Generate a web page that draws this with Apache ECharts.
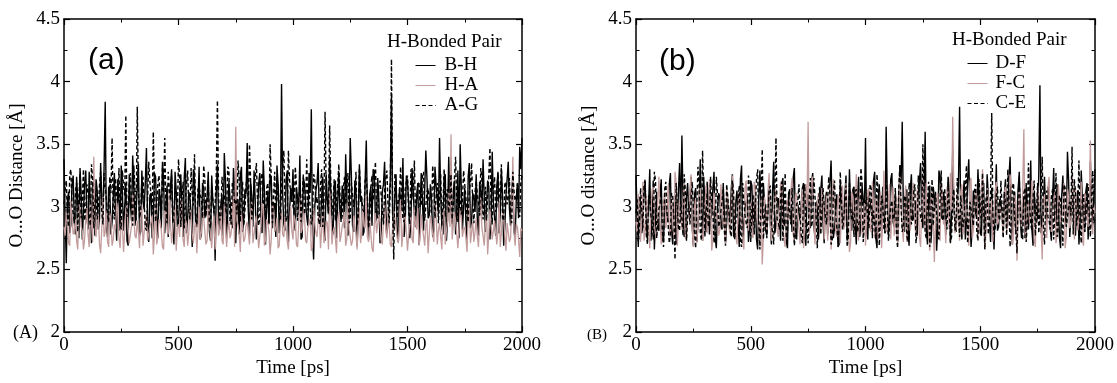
<!DOCTYPE html>
<html><head><meta charset="utf-8">
<script src="https://cdn.jsdelivr.net/npm/echarts@6/dist/echarts.min.js"></script>
<style>html,body{margin:0;padding:0;background:#fff}#c{width:1117px;height:383px}</style>
</head><body><div id="c"></div>
<script>
// sampling step of the time traces (ps); *_even at t = 0,10,...; *_odd at t = 5,15,...
const timeStep = 10;
const xTicks = [0, 500, 1000, 1500, 2000];
const yTicks = [2, 2.5, 3, 3.5, 4, 4.5];
const legendTitle = 'H-Bonded Pair';
const namesA = ['B-H', 'H-A', 'A-G'];
const namesB = ['D-F', 'F-C', 'C-E'];

// Panel (a)
const BH_even = [
3.38,2.55,3.12,2.86,3.25,2.78,3.05,3.31,2.74,3.18,2.92,3.28,2.71,3.09,3.22,2.82,3.35,2.95,3.84,2.76,
3.14,2.88,3.27,2.73,3.06,3.33,2.81,3.19,2.69,3.02,3.41,2.85,3.16,2.77,3.29,2.98,3.47,2.72,3.11,2.89,
3.24,2.75,3.08,3.36,2.79,3.17,2.94,3.30,2.70,3.13,2.87,3.26,2.76,3.39,2.91,3.07,2.68,3.21,2.84,3.32,
2.78,3.15,2.90,3.28,2.73,3.04,2.57,3.34,2.82,3.10,3.43,2.75,3.20,2.88,3.31,2.71,3.06,3.25,2.80,3.14,
3.51,2.77,3.09,3.29,2.74,3.18,2.93,3.37,2.70,3.12,3.26,2.83,3.03,3.33,2.79,3.98,2.86,3.22,2.72,3.15,
3.30,2.81,3.07,3.41,2.76,3.19,2.92,3.27,3.78,2.58,3.13,3.35,2.84,3.24,2.73,3.05,3.38,2.87,3.17,2.75,
3.28,2.90,3.11,3.42,2.77,3.55,2.85,3.21,2.69,3.34,3.08,2.80,3.53,2.74,3.16,3.30,2.88,3.23,2.71,3.12,
3.36,2.79,3.04,3.88,2.83,3.26,2.72,3.14,3.39,2.86,3.20,2.75,3.31,2.94,3.09,2.70,3.27,2.81,3.45,2.91,
3.18,2.76,3.32,3.06,3.55,2.84,3.23,2.73,3.40,2.97,3.12,2.78,3.29,3.50,2.82,3.15,2.71,3.35,2.89,3.07,
3.26,2.77,3.13,3.38,2.80,3.21,2.74,3.44,2.92,3.17,2.79,3.30,2.69,3.09,3.36,2.85,3.24,2.76,3.19,3.48,
3.55];
const BH_odd = [
2.92,3.05,2.79,3.18,2.88,3.24,2.75,3.10,2.97,3.29,2.82,3.02,3.20,2.77,3.13,2.90,3.06,3.31,2.85,3.16,
2.78,3.08,2.94,3.22,2.81,3.11,3.00,2.73,3.26,2.89,3.15,2.96,3.34,2.80,3.04,3.19,2.87,3.09,2.75,3.27,
2.93,3.14,2.83,3.21,3.01,2.76,3.17,2.90,3.28,2.84,3.07,2.98,3.23,2.79,3.12,2.95,3.30,2.86,3.03,2.74,
3.19,2.91,3.08,2.80,3.25,2.97,3.13,2.88,3.02,2.77,3.21,2.94,3.06,2.83,3.16,3.00,2.78,3.32,2.89,3.10,
2.96,3.20,2.84,3.05,2.93,3.27,2.79,3.14,2.99,2.86,3.22,3.01,2.76,3.18,2.92,3.09,2.81,3.29,2.95,3.04,
2.88,3.15,2.97,2.74,3.23,3.03,2.85,3.11,2.79,3.00,3.19,2.90,3.07,2.82,3.26,2.94,3.12,2.78,3.21,3.02,
2.95,3.17,2.83,3.09,2.98,3.24,2.80,3.13,2.92,3.04,2.77,3.20,2.96,3.10,2.85,3.28,2.91,3.06,2.79,3.18,
3.00,2.87,3.22,2.94,3.08,2.81,3.15,2.97,2.76,3.25,3.03,2.89,3.12,2.84,3.19,2.99,3.07,2.80,3.23,2.93,
3.05,2.82,3.17,2.95,3.10,2.78,3.26,2.90,3.02,2.86,3.21,2.97,2.75,3.14,3.00,2.88,3.24,2.83,3.11,2.96,
2.89,3.20,2.98,3.07,2.81,3.16,2.92,3.03,2.77,3.27,2.94,3.09,2.84,3.22,2.99,3.13,2.80,3.05,2.91,3.30];
const HA_even = [
2.84,2.96,2.71,3.05,2.78,2.90,2.66,3.02,2.81,2.74,2.99,2.68,2.87,3.40,2.76,2.93,2.63,3.08,2.80,2.72,
2.95,2.69,2.86,3.04,2.75,2.91,2.64,2.98,2.83,2.70,3.10,2.77,2.89,2.67,3.01,2.79,2.94,2.73,2.85,2.62,
3.03,2.76,2.88,2.68,2.97,2.82,3.12,2.71,2.92,2.65,2.86,3.06,2.74,2.90,2.69,2.99,2.78,2.84,2.63,3.00,
2.80,2.92,2.70,3.07,2.77,2.86,2.66,2.95,2.81,2.73,3.02,2.68,2.89,2.79,3.11,3.64,2.85,2.64,2.96,2.75,
2.88,2.70,3.04,2.78,2.93,2.67,2.84,2.99,2.73,2.87,2.62,3.05,2.80,2.91,2.69,2.97,2.76,2.83,2.66,3.01,
2.74,2.89,2.68,3.08,2.82,2.94,2.71,2.86,2.65,3.00,2.79,2.90,2.67,2.98,2.75,2.87,3.13,2.70,2.84,2.63,
2.96,2.77,2.88,2.69,3.03,2.81,2.73,2.92,2.66,2.99,2.78,2.85,3.09,2.72,2.90,2.64,2.95,2.80,2.87,2.70,
3.02,2.75,2.86,2.68,2.97,2.83,2.71,3.06,2.79,2.91,2.65,2.88,2.74,3.00,2.82,2.69,2.94,2.77,2.85,2.63,
2.93,2.78,3.05,2.70,2.87,2.66,2.96,2.81,3.11,3.58,2.73,2.89,2.67,2.99,2.76,2.84,2.64,3.02,2.80,2.72,
2.91,2.68,3.07,2.77,2.86,2.62,2.98,2.74,2.89,2.70,3.04,2.79,2.92,2.65,2.87,2.75,3.40,2.69,2.84,2.60,
2.81];
const HA_odd = [
2.77,2.88,2.69,2.94,2.81,2.73,2.99,2.84,2.66,2.91,2.78,3.02,2.72,2.86,2.95,2.70,2.83,2.76,2.97,2.68,
2.89,2.74,2.82,2.96,2.67,2.87,2.79,3.01,2.71,2.85,2.92,2.75,2.80,2.98,2.69,2.88,2.73,2.84,2.93,2.77,
2.70,2.90,2.81,2.66,2.95,2.78,2.86,2.72,3.00,2.83,2.76,2.91,2.68,2.87,2.79,2.94,2.71,2.89,2.82,2.74,
2.97,2.80,2.73,2.88,2.67,2.93,2.84,2.77,2.99,2.70,2.86,2.81,2.75,2.92,2.68,2.89,2.78,2.95,2.72,2.85,
2.79,2.94,2.71,2.87,2.82,2.76,3.03,2.69,2.90,2.80,2.74,2.96,2.83,2.67,2.88,2.78,2.92,2.72,2.85,2.81,
2.93,2.70,2.86,2.79,2.98,2.73,2.84,2.91,2.68,2.87,2.76,2.95,2.81,2.71,2.89,2.66,2.97,2.80,2.75,2.90,
2.72,2.85,2.96,2.74,2.82,2.69,2.93,2.78,2.87,2.71,3.01,2.83,2.76,2.90,2.67,2.86,2.79,2.94,2.73,2.88,
2.81,2.97,2.70,2.84,2.91,2.75,2.88,2.68,2.95,2.80,2.77,2.92,2.71,2.86,2.99,2.74,2.83,2.69,2.90,2.78,
2.87,2.72,2.93,2.81,2.76,2.98,2.70,2.89,2.84,2.74,2.96,2.79,2.67,2.91,2.82,2.75,2.94,2.71,2.88,2.80,
2.76,2.92,2.83,2.69,2.97,2.78,2.85,2.73,2.90,2.81,2.68,2.95,2.77,2.87,2.72,2.99,2.80,2.86,2.74,2.83];
const AG_even = [
3.02,3.21,2.84,3.30,2.95,3.12,2.80,3.26,3.05,2.89,3.18,2.92,3.34,2.83,3.10,3.00,3.28,2.86,3.15,2.94,
3.24,3.55,2.90,3.08,3.31,2.82,3.17,3.73,2.96,3.27,2.85,3.13,3.80,2.91,3.22,3.04,2.81,3.36,3.09,3.60,
2.88,3.19,3.01,3.32,3.55,2.87,3.14,3.25,2.93,3.06,3.38,2.84,3.20,3.03,3.29,2.90,3.11,3.42,2.86,3.16,
3.07,3.33,2.92,3.21,2.83,3.18,3.02,3.85,2.89,3.24,3.10,2.94,3.30,2.86,3.15,3.05,3.37,2.88,3.20,2.97,
3.27,3.50,2.90,3.12,3.35,2.85,3.23,3.04,2.92,3.19,3.50,2.87,3.28,3.06,2.95,3.16,3.45,2.88,3.45,3.10,
3.01,3.32,2.89,3.20,3.07,2.94,3.38,3.13,2.86,3.26,3.03,2.91,3.17,2.84,3.76,3.11,3.65,2.93,3.22,3.05,
3.34,2.88,3.15,3.02,3.27,2.90,3.19,3.08,2.85,3.31,3.12,2.96,3.24,2.83,3.16,3.05,3.36,2.91,3.21,3.00,
3.13,3.29,2.87,4.18,2.58,3.18,3.06,3.32,2.90,3.14,3.25,2.86,3.09,3.37,2.93,3.20,3.02,3.28,2.89,3.15,
3.04,3.33,2.91,3.19,3.08,2.85,3.30,3.12,2.95,3.26,3.01,3.40,2.88,3.17,3.06,3.29,2.92,3.14,3.35,2.87,
3.21,3.03,3.31,2.90,3.16,3.09,3.47,2.86,3.24,3.00,3.13,3.34,2.89,3.20,3.07,2.94,3.28,3.05,3.18,2.92,
3.25];
const AG_odd = [
3.14,2.93,3.26,3.01,2.87,3.19,3.08,2.91,3.30,2.98,3.12,2.85,3.22,3.04,2.90,3.17,2.96,3.27,3.06,2.88,
3.11,2.95,3.23,3.03,2.86,3.29,3.09,2.92,3.18,3.00,3.33,2.89,3.13,2.97,3.24,2.84,3.07,3.20,2.94,3.15,
3.02,3.25,2.90,3.11,2.98,3.28,3.05,2.87,3.16,2.93,3.21,3.06,2.83,3.18,2.97,3.31,3.01,2.88,3.14,3.09,
2.91,3.22,3.04,2.86,3.17,2.95,3.26,3.08,2.92,3.12,2.99,3.32,2.88,3.19,3.03,2.94,3.23,3.10,2.85,3.16,
3.00,3.20,2.89,3.13,3.06,2.92,3.27,3.01,3.15,2.87,3.24,3.07,2.96,3.18,2.90,3.29,3.04,2.93,3.21,3.11,
2.94,3.17,3.05,2.88,3.26,3.02,2.97,3.14,2.91,3.23,3.08,2.86,3.30,3.00,3.12,2.95,3.20,3.06,2.89,3.16,
3.09,2.93,3.24,3.03,2.87,3.19,3.00,3.28,2.92,3.13,2.98,3.21,3.07,2.90,3.25,3.04,2.95,3.17,3.10,2.86,
3.22,3.01,3.15,2.96,3.27,2.91,3.11,3.05,2.88,3.20,2.97,3.30,3.06,2.93,3.16,3.00,3.24,2.89,3.12,3.03,
2.95,3.18,3.08,2.87,3.26,3.02,2.92,3.14,3.05,2.90,3.23,3.00,3.16,2.94,3.29,3.07,2.88,3.19,3.01,3.12,
3.10,2.93,3.21,3.04,2.89,3.25,3.00,3.15,2.96,3.28,3.06,2.91,3.18,3.02,3.23,2.87,3.13,3.08,2.95,3.20];

// Panel (b)
const DF_even = [
3.25,2.68,3.02,2.85,3.18,2.74,3.30,2.90,2.66,3.12,2.81,3.22,2.72,3.05,2.88,3.27,2.70,3.10,2.83,3.35,
3.57,2.76,3.08,2.92,3.24,2.69,3.15,2.86,3.38,2.73,3.01,3.20,2.78,2.94,3.28,2.67,3.11,2.84,3.19,2.71,
3.06,2.89,3.26,2.75,3.13,2.68,3.33,2.87,3.00,2.72,3.21,2.82,3.09,2.66,3.29,2.91,3.04,2.77,3.17,2.70,
3.36,2.85,3.07,2.73,3.23,2.90,2.67,3.14,2.80,3.31,2.74,3.02,2.88,3.19,2.69,3.10,2.83,3.27,2.76,3.05,
2.92,3.25,2.71,3.12,2.86,3.37,2.75,3.03,2.68,3.21,2.89,3.08,2.73,3.30,2.81,3.16,2.70,3.24,2.87,3.06,
3.55,2.74,3.11,2.90,3.28,2.67,3.18,2.84,3.02,3.64,2.77,3.22,2.88,3.09,2.72,3.33,3.68,2.80,3.14,2.69,
3.26,2.91,3.04,2.76,3.35,2.83,3.60,2.70,3.17,2.87,3.08,2.65,3.29,2.93,3.12,2.78,3.24,2.71,3.45,2.86,
3.06,3.80,2.74,3.21,2.89,3.38,2.68,3.13,2.95,3.30,2.79,3.09,2.72,3.26,2.90,3.15,2.66,3.34,2.84,3.03,
2.77,3.22,2.91,3.40,2.70,3.12,2.87,3.28,2.75,3.05,3.19,2.82,3.37,2.69,3.10,2.93,3.97,2.78,3.24,2.88,
3.14,2.73,3.31,2.86,3.07,2.67,3.25,2.92,3.44,2.76,3.18,2.83,3.03,2.70,3.29,2.89,3.12,2.74,3.36,2.85,
3.30];
const DF_odd = [
2.95,3.08,2.79,3.16,2.86,3.02,2.73,3.21,2.90,2.83,3.11,2.76,3.05,2.93,3.18,2.81,2.98,2.70,3.13,2.88,
3.03,2.78,3.19,2.91,2.84,3.10,2.72,3.00,2.95,3.24,2.80,3.06,2.89,3.15,2.75,2.97,3.08,2.82,3.20,2.87,
2.93,3.14,2.77,3.04,2.86,3.22,2.71,2.99,3.09,2.83,3.17,2.90,2.74,3.07,2.96,3.19,2.81,3.01,2.88,3.12,
2.79,3.05,2.94,3.18,2.85,2.72,3.11,2.97,3.23,2.80,3.02,2.89,3.15,2.76,3.08,2.92,3.20,2.84,3.00,2.74,
3.13,2.87,3.06,2.78,3.19,2.95,2.83,3.10,2.70,3.04,2.91,3.25,2.80,2.98,3.14,2.86,3.07,2.76,3.17,2.93,
2.82,3.12,2.96,3.21,2.75,3.03,2.88,3.16,2.79,3.09,2.92,3.27,2.84,3.01,2.73,3.18,2.97,3.06,2.81,3.14,
2.89,3.02,2.77,3.20,2.94,3.11,2.82,3.07,2.71,3.16,2.98,2.85,3.24,2.90,3.05,2.78,3.13,2.93,3.00,2.80,
3.17,2.88,3.08,2.74,3.22,2.96,2.83,3.12,2.91,3.04,2.77,3.19,2.86,3.09,2.72,3.15,2.99,2.81,3.06,2.94,
3.10,2.84,3.23,2.92,3.03,2.78,3.14,2.89,3.07,2.75,3.20,2.97,2.82,3.11,2.87,3.26,2.79,3.02,2.95,3.16,
2.83,3.05,2.91,3.18,2.76,3.09,2.98,2.85,3.21,2.93,3.01,2.77,3.13,2.88,3.06,2.80,3.19,2.94,3.03,2.86];
const FC_even = [
2.88,3.10,2.72,3.20,2.80,2.97,2.67,3.14,2.85,2.75,3.24,2.70,3.02,2.83,3.17,2.76,2.92,3.28,2.69,3.05,
2.82,3.19,2.74,2.95,3.26,2.68,3.07,2.86,3.15,2.73,3.00,2.79,3.22,2.65,3.11,2.90,2.77,3.18,2.84,2.71,
3.09,2.78,3.25,2.87,2.70,3.13,2.93,2.66,3.21,2.81,3.04,2.75,3.16,2.89,2.69,2.54,3.08,2.80,3.27,2.73,
2.97,3.14,2.76,3.20,2.84,2.68,3.06,2.91,3.23,2.72,3.11,2.83,3.01,2.67,3.18,3.68,2.78,3.24,2.70,3.03,
2.86,3.15,2.74,3.09,2.90,2.66,3.22,2.81,3.05,2.71,3.17,2.85,2.96,2.64,3.12,2.79,3.26,2.73,3.00,2.87,
2.69,3.13,2.82,3.20,2.75,3.02,2.92,2.67,3.29,2.80,3.07,2.74,3.16,2.88,2.70,3.24,2.84,3.04,2.72,3.11,
2.90,3.19,2.77,3.06,2.68,3.25,2.83,2.96,2.65,3.14,2.56,3.08,2.78,3.21,2.86,2.71,3.02,3.27,3.72,2.79,
3.10,2.73,3.18,2.87,3.03,2.69,3.23,2.81,3.12,2.76,2.95,3.30,2.66,3.15,2.84,3.06,2.72,3.20,2.89,3.00,
2.77,3.16,2.85,3.26,2.70,3.09,2.57,3.13,2.82,3.62,2.74,3.04,2.91,3.22,2.68,3.17,2.86,2.58,3.10,2.75,
3.24,2.80,3.05,2.71,3.18,2.88,2.95,2.67,3.14,2.83,3.28,2.74,3.01,2.90,3.20,2.69,3.08,2.84,3.53,2.78,
2.95];
const FC_odd = [
2.80,3.02,2.91,2.73,3.09,2.85,2.97,3.16,2.78,3.05,2.88,2.70,3.12,2.93,2.82,3.07,2.75,3.19,2.87,2.96,
3.04,2.76,2.90,3.13,2.83,2.99,2.71,3.08,2.92,2.79,3.17,2.86,3.01,2.74,3.10,2.95,2.81,3.06,2.89,3.14,
2.84,2.97,3.11,2.77,3.03,2.90,2.72,3.15,2.86,3.00,2.79,3.20,2.93,2.83,3.07,2.75,2.98,3.12,2.87,2.94,
3.06,2.81,2.95,3.18,2.74,3.02,2.89,3.13,2.78,3.09,2.92,2.70,3.14,2.85,3.00,2.77,3.21,2.88,2.96,3.11,
2.79,3.05,2.91,2.73,3.16,2.87,3.01,2.76,3.10,2.94,2.82,3.19,2.89,2.71,3.08,2.97,2.84,3.13,2.78,3.03,
2.92,3.15,2.80,2.98,3.07,2.74,3.12,2.88,3.00,2.83,3.18,2.95,2.77,3.09,2.86,3.04,2.72,3.17,2.90,2.81,
3.08,2.85,3.14,2.76,2.99,2.91,3.19,2.79,3.03,2.87,2.94,3.11,2.73,3.06,2.89,3.16,2.82,2.97,3.10,2.84,
2.93,3.12,2.78,3.04,2.88,3.20,2.75,2.99,3.09,2.84,3.15,2.90,2.80,3.07,2.96,2.72,3.13,2.86,3.01,2.92,
3.11,2.81,2.97,3.18,2.77,3.05,2.89,2.94,3.14,2.79,3.02,2.87,3.21,2.74,2.99,3.10,2.83,3.06,2.91,3.16,
2.85,2.98,3.12,2.78,3.03,2.92,3.19,2.76,3.08,2.89,2.95,3.15,2.81,3.00,2.73,3.11,2.94,3.06,2.87,3.02];
const CE_even = [
2.95,2.72,3.15,2.83,3.22,2.70,3.05,2.88,3.28,2.75,2.99,3.12,2.68,3.20,2.86,2.77,3.09,2.58,3.18,2.81,
2.90,3.26,2.73,3.04,2.85,3.19,2.67,3.32,2.80,3.45,2.76,3.11,2.89,3.01,2.71,3.24,2.84,2.97,3.14,2.69,
3.07,2.82,3.21,2.74,2.93,3.17,2.68,3.03,2.87,3.25,2.72,3.10,2.79,3.30,2.66,3.46,2.91,2.75,3.13,2.85,
2.70,3.55,2.88,3.06,2.73,3.27,2.81,2.96,3.15,2.69,3.02,3.18,2.77,3.12,2.84,2.71,3.23,2.90,3.08,2.67,
3.16,2.78,3.00,2.86,3.24,2.70,3.11,2.93,2.74,3.28,2.82,3.05,2.68,3.20,2.89,2.76,3.14,2.85,3.31,2.72,
3.03,2.87,3.18,2.75,2.98,3.26,2.69,3.09,2.83,3.21,2.73,3.01,2.90,3.15,2.67,3.34,2.80,3.07,2.77,3.19,
2.86,3.12,2.71,3.25,2.92,3.50,2.79,3.04,2.68,3.22,2.84,3.13,2.74,3.29,2.89,2.96,3.17,2.72,3.08,2.81,
3.23,2.76,3.10,2.90,3.33,2.70,3.05,2.85,3.18,2.73,3.00,3.27,2.66,3.14,2.87,3.75,2.78,3.09,2.93,3.21,
2.75,3.02,3.30,2.68,3.16,2.88,2.63,3.24,2.80,3.11,2.72,3.35,2.86,3.06,2.77,3.19,2.94,3.40,2.70,3.13,
2.89,3.08,2.74,3.27,2.83,3.05,2.69,3.15,2.92,3.04,3.48,3.22,2.85,3.37,2.71,3.10,2.88,3.18,2.76,3.29,
2.90];
const CE_odd = [
3.06,2.85,2.98,3.17,2.78,3.09,2.93,2.74,3.21,2.88,3.03,2.80,3.14,2.96,2.71,3.11,2.90,3.19,2.83,3.05,
2.77,3.13,2.94,2.86,3.20,2.79,3.01,3.16,2.73,3.08,2.91,2.84,3.24,2.97,2.75,3.10,2.88,3.04,2.81,3.18,
2.95,2.76,3.12,2.89,3.06,2.72,3.19,2.93,2.83,3.15,3.00,2.78,3.22,2.87,3.09,2.74,3.02,2.96,3.17,2.80,
3.11,2.90,2.82,3.20,2.97,2.75,3.08,2.86,3.14,2.79,3.04,2.93,2.71,3.18,2.88,3.07,2.84,3.23,2.92,3.00,
2.78,3.15,2.99,2.85,3.10,2.73,3.21,2.94,2.82,3.06,2.89,3.17,2.76,3.03,2.96,3.12,2.80,2.91,3.19,2.87,
3.08,2.83,3.14,2.97,2.74,3.11,2.90,3.02,2.79,3.22,2.86,3.05,2.92,2.77,3.16,2.99,2.84,3.09,2.72,3.13,
2.93,3.18,2.81,3.03,2.88,3.10,2.75,3.20,2.95,2.85,3.12,2.78,3.07,2.91,3.15,2.82,3.01,2.76,3.14,2.89,
2.98,3.09,2.84,3.17,2.71,3.04,2.92,3.13,2.80,3.22,2.87,2.97,3.06,2.78,3.11,2.93,2.83,3.16,2.89,3.00,
3.12,2.77,3.05,2.90,3.19,2.83,3.08,2.95,2.74,3.15,2.88,3.02,2.81,3.21,2.94,2.79,3.10,2.86,3.03,2.92,
2.82,3.14,2.96,2.76,3.09,2.89,3.18,2.84,3.01,2.93,2.78,3.12,2.97,2.85,3.07,2.80,3.16,2.91,3.04,2.87];

const SERIF = 'Liberation Serif';
const PINK = '#c29c9c';
function merged(even, odd){
  const out = [];
  even.forEach((v,i)=>{
    out.push([i*timeStep, v]);
    if (i < odd.length) out.push([i*timeStep + timeStep/2, odd[i]]);
  });
  return out;
}

function xAx(g, pos){
  return {
    type:'value', gridIndex:g, position:pos, min:xTicks[0], max:xTicks[xTicks.length-1], interval:500,
    axisLine:{show:true, onZero:false, lineStyle:{color:'#000', width:1.5}},
    axisTick:{show:true, inside:true, length:6, lineStyle:{color:'#000', width:1.2}},
    minorTick:{show:true, splitNumber:2, length:3.5, lineStyle:{color:'#000', width:1}},
    splitLine:{show:false},
    axisLabel:{show:pos==='bottom', color:'#000', fontFamily:SERIF, fontSize:19, margin:3, formatter:v=>String(v)},
    name: pos==='bottom' ? 'Time [ps]' : '', nameLocation:'middle', nameGap:22,
    nameTextStyle:{color:'#000', fontFamily:SERIF, fontSize:19}
  };
}
function yAx(g, pos, name){
  return {
    type:'value', gridIndex:g, position:pos, min:yTicks[0], max:yTicks[yTicks.length-1], interval:0.5,
    axisLine:{show:true, onZero:false, lineStyle:{color:'#000', width:1.5}},
    axisTick:{show:true, inside:true, length:6, lineStyle:{color:'#000', width:1.2}},
    minorTick:{show:true, splitNumber:2, length:3.5, lineStyle:{color:'#000', width:1}},
    splitLine:{show:false},
    axisLabel:{show:pos==='left', color:'#000', fontFamily:SERIF, fontSize:19, margin:4, formatter:v=>String(v)},
    name: pos==='left' ? name : '', nameLocation:'middle', nameGap:37, nameRotate:90,
    nameTextStyle:{color:'#000', fontFamily:SERIF, fontSize:19}
  };
}
function ser(name, even, odd, xi, yi, color, dashed, w){
  return {
    name, type:'line', xAxisIndex:xi, yAxisIndex:yi, data:merged(even, odd),
    symbol:'none', showSymbol:false, silent:true,
    lineStyle:{color, width:w, type: dashed ? [4,2.5] : 'solid'},
    itemStyle:{color}
  };
}
function legendOf(names, left, top, pad){
  return {data:names, orient:'vertical', left, top, itemWidth:20, itemHeight:18, itemGap:1,
    itemStyle:{opacity:0}, lineStyle:{width:1}, selectedMode:false,
    textStyle:{color:'#000', fontFamily:SERIF, fontSize:19, lineHeight:18, padding:[0,0,0,pad]}};
}

const chart = echarts.init(document.getElementById('c'), null, {renderer:'canvas'});
chart.setOption({
  animation:false,
  backgroundColor:'#fff',
  grid:[
    {left:64, top:19, width:458, height:322},
    {left:636, top:19, width:459, height:322}
  ],
  xAxis:[xAx(0,'bottom'), xAx(1,'bottom'), xAx(0,'top'), xAx(1,'top')],
  yAxis:[yAx(0,'left','O...O Distance [Å]'), yAx(1,'left','O...O distance [Å]'), yAx(0,'right'), yAx(1,'right')],
  legend:[legendOf(namesA, 410, 51, 4), legendOf(namesB, 962, 49, 3)],
  graphic:[
    {type:'text', x:387, y:42, style:{text:legendTitle, font:'19px "Liberation Serif"', fill:'#000', verticalAlign:'middle'}},
    {type:'text', x:952, y:40, style:{text:legendTitle, font:'19px "Liberation Serif"', fill:'#000', verticalAlign:'middle'}},
    {type:'text', x:88, y:61, style:{text:'(a)', font:'30px "Liberation Sans"', fill:'#000', verticalAlign:'middle'}},
    {type:'text', x:659, y:62, style:{text:'(b)', font:'30px "Liberation Sans"', fill:'#000', verticalAlign:'middle'}},
    {type:'text', x:13, y:333, style:{text:'(A)', font:'18px "Liberation Serif"', fill:'#000', verticalAlign:'middle'}},
    {type:'text', x:587, y:335, style:{text:'(B)', font:'15px "Liberation Serif"', fill:'#000', verticalAlign:'middle'}}
  ],
  series:[
    ser(namesA[0], BH_even, BH_odd, 0, 0, '#000', false, 1.4),
    ser(namesA[1], HA_even, HA_odd, 0, 0, PINK, false, 1.3),
    ser(namesA[2], AG_even, AG_odd, 0, 0, '#000', true, 1.4),
    ser(namesB[0], DF_even, DF_odd, 1, 1, '#000', false, 1.4),
    ser(namesB[1], FC_even, FC_odd, 1, 1, PINK, false, 1.3),
    ser(namesB[2], CE_even, CE_odd, 1, 1, '#000', true, 1.4)
  ]
});
</script></body></html>
